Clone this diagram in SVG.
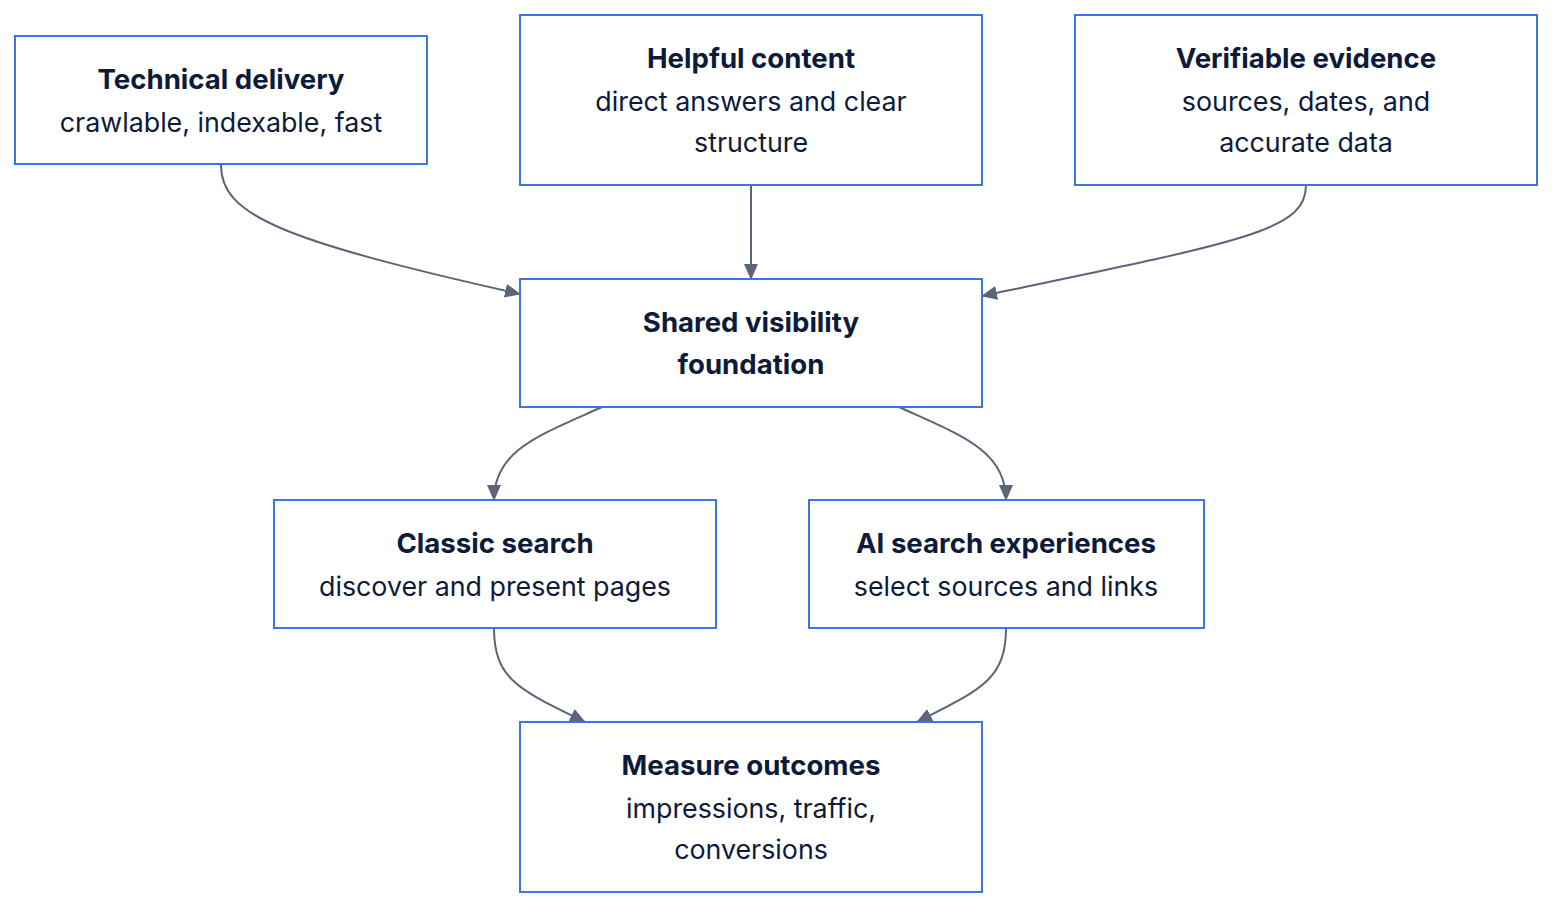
<svg xmlns="http://www.w3.org/2000/svg" width="1568" height="918" viewBox="0 0 1568 918">
<style>
.box{fill:#fff;stroke:#3b74e6;stroke-width:2}
text{font-family:Inter,"Noto Sans","Liberation Sans",sans-serif;font-size:26.8px;fill:#0d1a3a;text-anchor:middle;dominant-baseline:central}
.t{font-weight:700;font-size:27.6px}
.e{fill:none;stroke:#5b6579;stroke-width:2}
</style>
<defs>
<marker id="ah" viewBox="0 0 16 14" refX="15" refY="7" markerWidth="16" markerHeight="14" markerUnits="userSpaceOnUse" orient="auto">
<path d="M0,0 L16,7 L0,14 Z" fill="#5b6579"/>
</marker>
</defs>
<rect width="1568" height="918" fill="#fff"/>
<g id="edges">
<path class="e" marker-end="url(#ah)" d="M221,165 C221,215 280,240 520,294"/>
<path class="e" marker-end="url(#ah)" d="M751,185 L751,279"/>
<path class="e" marker-end="url(#ah)" d="M1306,185 C1306,230 1250,240 982,296"/>
<path class="e" marker-end="url(#ah)" d="M602,407 C540,435 494,450 494,500"/>
<path class="e" marker-end="url(#ah)" d="M899,407 C960,435 1006,450 1006,500"/>
<path class="e" marker-end="url(#ah)" d="M494,628 C494,680 520,690 585,722"/>
<path class="e" marker-end="url(#ah)" d="M1006,628 C1006,680 980,690 917,722"/>
</g>
<g id="technical">
<rect class="box" x="15" y="36" width="412" height="128"/>
<text class="t" x="221" y="79">Technical delivery</text>
<text x="221" y="122">crawlable, indexable, fast</text>
</g>
<g id="helpful">
<rect class="box" x="520" y="15" width="462" height="170"/>
<text class="t" x="751" y="58">Helpful content</text>
<text x="751" y="101">direct answers and clear</text>
<text x="751" y="142">structure</text>
</g>
<g id="verifiable">
<rect class="box" x="1075" y="15" width="462" height="170"/>
<text class="t" x="1306" y="58">Verifiable evidence</text>
<text x="1306" y="101">sources, dates, and</text>
<text x="1306" y="142">accurate data</text>
</g>
<g id="shared">
<rect class="box" x="520" y="279" width="462" height="128"/>
<text class="t" x="751" y="322">Shared visibility</text>
<text class="t" x="751" y="364">foundation</text>
</g>
<g id="classic">
<rect class="box" x="274" y="500" width="442" height="128"/>
<text class="t" x="495" y="543">Classic search</text>
<text x="495" y="586">discover and present pages</text>
</g>
<g id="ai">
<rect class="box" x="809" y="500" width="395" height="128"/>
<text class="t" x="1006" y="543">AI search experiences</text>
<text x="1006" y="586">select sources and links</text>
</g>
<g id="measure">
<rect class="box" x="520" y="722" width="462" height="170"/>
<text class="t" x="751" y="765">Measure outcomes</text>
<text x="751" y="808">impressions, traffic,</text>
<text x="751" y="849">conversions</text>
</g>
</svg>
